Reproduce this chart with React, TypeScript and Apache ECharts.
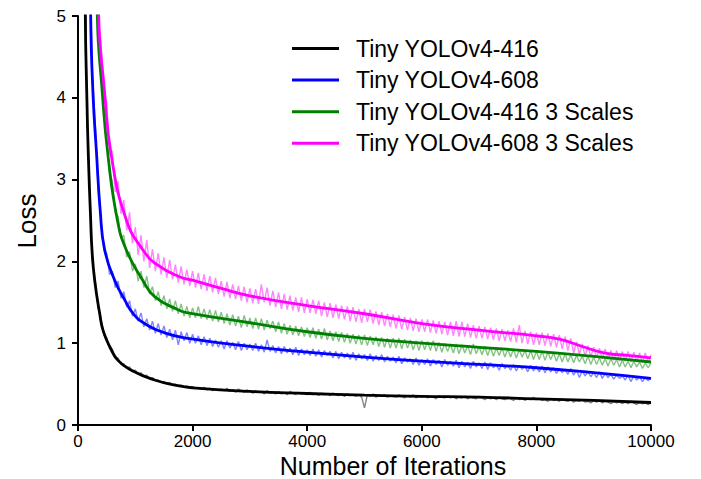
import React, { useEffect, useRef } from "react";
import * as echarts from "echarts";

const seriesNames = [
  "Tiny YOLOv4-416",
  "Tiny YOLOv4-608",
  "Tiny YOLOv4-416 3 Scales",
  "Tiny YOLOv4-608 3 Scales",
];

const xTicks = [0, 2000, 4000, 6000, 8000, 10000];
const yTicks = [0, 1, 2, 3, 4, 5];

// raw (unsmoothed) loss sampled every 50 iterations, 50..10000
const rawStep = 50;

const rawBlack = [
  20, 9.2, 4.0, 3.0, 2.0, 1.76, 1.44, 1.31, 1.1, 1.07,
  0.93, 0.93, 0.81, 0.82, 0.74, 0.75, 0.69, 0.71, 0.65, 0.67,
  0.62, 0.64, 0.6, 0.61, 0.56, 0.58, 0.54, 0.55, 0.52, 0.53,
  0.5, 0.52, 0.49, 0.5, 0.47, 0.49, 0.46, 0.48, 0.45, 0.47,
  0.45, 0.46, 0.44, 0.46, 0.43, 0.45, 0.42, 0.44, 0.43, 0.44,
  0.42, 0.45, 0.41, 0.43, 0.4, 0.44, 0.42, 0.4, 0.43, 0.41,
  0.39, 0.42, 0.4, 0.41, 0.38, 0.42, 0.39, 0.4, 0.38, 0.41,
  0.38, 0.4, 0.37, 0.41, 0.39, 0.37, 0.4, 0.38, 0.39, 0.37,
  0.4, 0.37, 0.39, 0.36, 0.39, 0.37, 0.38, 0.36, 0.39, 0.37,
  0.36, 0.38, 0.35, 0.38, 0.36, 0.37, 0.35, 0.37, 0.34, 0.21,
  0.37, 0.35, 0.38, 0.34, 0.36, 0.35, 0.37, 0.34, 0.36, 0.35,
  0.34, 0.37, 0.35, 0.33, 0.36, 0.34, 0.37, 0.33, 0.35, 0.34,
  0.36, 0.33, 0.35, 0.34, 0.32, 0.36, 0.34, 0.33, 0.35, 0.33,
  0.35, 0.32, 0.34, 0.33, 0.35, 0.32, 0.34, 0.33, 0.32, 0.35,
  0.33, 0.31, 0.34, 0.32, 0.33, 0.31, 0.34, 0.32, 0.31, 0.34,
  0.32, 0.3, 0.33, 0.31, 0.33, 0.3, 0.32, 0.31, 0.34, 0.31,
  0.32, 0.3, 0.31, 0.29, 0.32, 0.3, 0.31, 0.29, 0.32, 0.3,
  0.29, 0.31, 0.28, 0.3, 0.29, 0.31, 0.28, 0.29, 0.27, 0.3,
  0.28, 0.3, 0.27, 0.29, 0.28, 0.26, 0.29, 0.27, 0.28, 0.26,
  0.28, 0.26, 0.29, 0.27, 0.25, 0.28, 0.26, 0.27, 0.25, 0.27,
];

const rawBlue = [
  25, 16, 9, 6.1, 4.3, 3.7, 2.9, 2.5, 2.14, 2.1,
  1.84, 1.88, 1.68, 1.76, 1.55, 1.63, 1.44, 1.52, 1.33, 1.42,
  1.27, 1.37, 1.2, 1.3, 1.16, 1.27, 1.12, 1.24, 1.1, 1.21,
  1.07, 1.17, 1.04, 1.16, 0.98, 1.14, 1.03, 1.13, 1.0, 1.11,
  1.0, 1.09, 0.98, 1.08, 0.97, 1.06, 0.96, 1.04, 0.95, 1.03,
  0.93, 1.03, 0.94, 1.01, 0.92, 1.02, 0.91, 1.0, 0.92, 0.99,
  0.91, 1.0, 0.9, 0.98, 0.89, 1.04, 0.9, 0.97, 0.88, 0.96,
  0.87, 0.96, 0.88, 0.94, 0.86, 0.95, 0.85, 0.93, 0.86, 0.92,
  0.85, 0.93, 0.84, 0.92, 0.83, 0.91, 0.85, 0.9, 0.82, 0.9,
  0.81, 0.89, 0.82, 0.88, 0.8, 0.89, 0.79, 0.87, 0.81, 0.86,
  0.79, 0.87, 0.78, 0.85, 0.79, 0.86, 0.77, 0.84, 0.78, 0.83,
  0.76, 0.84, 0.75, 0.82, 0.77, 0.81, 0.74, 0.82, 0.73, 0.8,
  0.74, 0.81, 0.72, 0.8, 0.74, 0.79, 0.71, 0.8, 0.73, 0.78,
  0.72, 0.79, 0.7, 0.78, 0.71, 0.77, 0.69, 0.78, 0.71, 0.76,
  0.69, 0.77, 0.68, 0.76, 0.7, 0.74, 0.67, 0.75, 0.69, 0.73,
  0.67, 0.74, 0.66, 0.73, 0.68, 0.72, 0.65, 0.73, 0.66, 0.72,
  0.65, 0.72, 0.64, 0.71, 0.65, 0.7, 0.63, 0.69, 0.64, 0.68,
  0.62, 0.69, 0.61, 0.67, 0.58, 0.66, 0.6, 0.65, 0.59, 0.64,
  0.58, 0.65, 0.57, 0.63, 0.58, 0.62, 0.56, 0.61, 0.57, 0.6,
  0.55, 0.61, 0.53, 0.6, 0.55, 0.59, 0.53, 0.58, 0.54, 0.58,
];

const rawGreen = [
  40, 25, 17, 11, 7.5, 5.9, 4.8, 4.35, 3.8, 3.5,
  3.08, 2.98, 2.6, 2.55, 2.28, 2.32, 2.05, 2.12, 1.88, 1.97,
  1.76, 1.88, 1.68, 1.82, 1.6, 1.69, 1.52, 1.63, 1.46, 1.58,
  1.42, 1.54, 1.39, 1.52, 1.36, 1.48, 1.33, 1.45, 1.31, 1.43,
  1.31, 1.45, 1.3, 1.42, 1.29, 1.41, 1.27, 1.4, 1.26, 1.38,
  1.24, 1.36, 1.22, 1.35, 1.21, 1.33, 1.19, 1.34, 1.2, 1.31,
  1.18, 1.31, 1.17, 1.3, 1.16, 1.28, 1.18, 1.27, 1.14, 1.26,
  1.12, 1.24, 1.11, 1.22, 1.1, 1.21, 1.09, 1.2, 1.08, 1.19,
  1.07, 1.19, 1.06, 1.17, 1.05, 1.18, 1.04, 1.15, 1.03, 1.14,
  1.02, 1.13, 1.01, 1.12, 1.0, 1.11, 0.99, 1.1, 0.98, 1.1,
  0.97, 1.09, 0.98, 1.08, 0.96, 1.07, 0.95, 1.06, 0.94, 1.06,
  0.94, 1.06, 0.93, 1.05, 0.94, 1.04, 0.92, 1.03, 0.91, 1.03,
  0.92, 1.02, 0.91, 1.03, 0.9, 1.01, 0.89, 1.0, 0.9, 0.99,
  0.88, 0.99, 0.87, 0.98, 0.88, 0.97, 0.86, 0.99, 0.87, 0.96,
  0.86, 0.96, 0.85, 0.95, 0.84, 0.94, 0.85, 0.94, 0.83, 0.93,
  0.83, 0.93, 0.82, 0.92, 0.83, 0.91, 0.81, 0.91, 0.8, 0.9,
  0.8, 0.9, 0.79, 0.89, 0.8, 0.88, 0.78, 0.87, 0.77, 0.87,
  0.77, 0.86, 0.76, 0.85, 0.77, 0.84, 0.75, 0.84, 0.74, 0.83,
  0.74, 0.82, 0.73, 0.81, 0.72, 0.81, 0.73, 0.8, 0.71, 0.79,
  0.71, 0.78, 0.7, 0.78, 0.71, 0.77, 0.69, 0.76, 0.7, 0.76,
];

const rawMagenta = [
  50, 30, 20, 13, 9, 6.6, 5.0, 4.7, 4.1, 3.95,
  3.3, 3.35, 2.85, 2.98, 2.58, 2.75, 2.38, 2.6, 2.22, 2.42,
  2.08, 2.32, 2.0, 2.26, 1.92, 2.15, 1.88, 2.1, 1.84, 2.05,
  1.8, 2.02, 1.78, 1.96, 1.74, 1.94, 1.72, 1.9, 1.7, 1.88,
  1.68, 1.86, 1.66, 1.84, 1.64, 1.82, 1.62, 1.8, 1.6, 1.76,
  1.57, 1.75, 1.55, 1.72, 1.54, 1.7, 1.52, 1.69, 1.5, 1.67,
  1.49, 1.66, 1.48, 1.72, 1.5, 1.68, 1.46, 1.64, 1.44, 1.62,
  1.42, 1.6, 1.41, 1.58, 1.4, 1.56, 1.38, 1.56, 1.37, 1.54,
  1.37, 1.53, 1.36, 1.52, 1.33, 1.5, 1.32, 1.49, 1.31, 1.47,
  1.3, 1.46, 1.29, 1.45, 1.27, 1.44, 1.26, 1.42, 1.25, 1.42,
  1.26, 1.41, 1.24, 1.39, 1.22, 1.38, 1.21, 1.36, 1.2, 1.35,
  1.18, 1.34, 1.17, 1.32, 1.16, 1.31, 1.15, 1.3, 1.14, 1.29,
  1.14, 1.29, 1.13, 1.28, 1.12, 1.27, 1.11, 1.26, 1.1, 1.26,
  1.09, 1.27, 1.08, 1.26, 1.08, 1.24, 1.07, 1.22, 1.06, 1.21,
  1.06, 1.2, 1.05, 1.19, 1.04, 1.18, 1.03, 1.17, 1.03, 1.16,
  1.02, 1.18, 1.01, 1.22, 1.0, 1.15, 0.99, 1.14, 0.98, 1.13,
  0.98, 1.13, 0.97, 1.12, 0.96, 1.11, 0.95, 1.1, 0.93, 1.08,
  0.91, 1.06, 0.88, 1.02, 0.86, 0.99, 0.84, 0.97, 0.83, 0.95,
  0.82, 0.94, 0.81, 0.93, 0.8, 0.91, 0.79, 0.91, 0.78, 0.9,
  0.78, 0.9, 0.77, 0.89, 0.77, 0.88, 0.76, 0.88, 0.76, 0.86,
];

// fitted (smoothed) curves: [iteration, loss]
const fitBlack = [
  [100, 9], [128, 5], [155, 4], [180, 3.3], [221, 2.51], [244, 2.14],
  [291, 1.77], [378, 1.365], [436, 1.16], [553, 0.96], [698, 0.79],
  [931, 0.67], [1338, 0.55], [1745, 0.48], [2000, 0.455], [3000, 0.41],
  [4000, 0.385], [5000, 0.365], [6000, 0.35], [7000, 0.34], [8000, 0.32],
  [9000, 0.3], [10000, 0.275],
];
const fitBlue = [
  [170, 9], [221, 5], [265, 4], [320, 3.36], [390, 2.6], [466, 2.14],
  [640, 1.77], [815, 1.53], [960, 1.365], [1163, 1.24], [1541, 1.12],
  [1920, 1.06], [3000, 0.96], [4000, 0.89], [5000, 0.83], [6000, 0.78],
  [7000, 0.74], [8000, 0.7], [9000, 0.64], [10000, 0.57],
];
const fitGreen = [
  [270, 9], [337, 5], [420, 4.1], [524, 3.29], [686, 2.51], [843, 2.14],
  [1130, 1.77], [1338, 1.57], [1745, 1.41], [1920, 1.37], [3000, 1.25],
  [4000, 1.14], [5000, 1.06], [6000, 1.0], [7000, 0.95], [8000, 0.9],
  [9000, 0.84], [10000, 0.77],
];
const fitMagenta = [
  [290, 9], [361, 5], [460, 4.1], [582, 3.29], [843, 2.51], [1134, 2.14],
  [1400, 1.95], [1780, 1.81], [2000, 1.77], [2500, 1.67], [3000, 1.58],
  [4000, 1.46], [5000, 1.36], [6000, 1.24], [7000, 1.16], [8000, 1.09],
  [8400, 1.05], [8800, 0.96], [9200, 0.88], [9600, 0.85], [10000, 0.82],
];

const lineColors = ["#000000", "#0000ff", "#008000", "#ff00ff"];
const rawColors = ["#858585", "#8484ff", "#85c285", "#ff85ff"];
const FONT = "'Liberation Sans', Arial, Helvetica, sans-serif";

export default function App() {
  const ref = useRef<HTMLDivElement>(null);

  useEffect(() => {
    if (!ref.current) return;
    const chart = echarts.init(ref.current, undefined, { renderer: "svg" });
    const raws = [rawBlack, rawBlue, rawGreen, rawMagenta];
    const fits = [fitBlack, fitBlue, fitGreen, fitMagenta];

    const rawSeries = raws.map((arr, k) => ({
      type: "line",
      name: "raw" + k,
      data: arr.map((v, i) => [(i + 1) * rawStep, v]),
      showSymbol: false,
      symbol: "none",
      lineStyle: { color: rawColors[k], width: 1.4 },
      itemStyle: { color: rawColors[k] },
      clip: true,
      silent: true,
      z: 1,
    }));
    const fitSeries = fits.map((arr, k) => ({
      type: "line",
      name: seriesNames[k],
      data: arr,
      smooth: 0.5,
      showSymbol: false,
      symbol: "none",
      lineStyle: { color: lineColors[k], width: 2.8 },
      itemStyle: { color: lineColors[k] },
      clip: true,
      z: 3,
    }));

    chart.setOption({
      animation: false,
      backgroundColor: "#ffffff",
      textStyle: { fontFamily: FONT },
      grid: { left: 78, right: 50, top: 16, bottom: 54, containLabel: false },
      xAxis: {
        type: "value",
        min: xTicks[0],
        max: xTicks[xTicks.length - 1],
        interval: 2000,
        axisLine: { lineStyle: { color: "#000", width: 2 } },
        axisTick: { show: true, length: 6, lineStyle: { color: "#000", width: 2 } },
        axisLabel: {
          color: "#000",
          fontSize: 17,
          margin: 8,
          fontFamily: FONT,
          formatter: (v: number) => String(v),
        },
        splitLine: { show: false },
      },
      yAxis: {
        type: "value",
        min: yTicks[0],
        max: yTicks[yTicks.length - 1],
        interval: 1,
        axisLine: { show: true, lineStyle: { color: "#000", width: 2 } },
        axisTick: { show: true, length: 6, lineStyle: { color: "#000", width: 2 } },
        axisLabel: { color: "#000", fontSize: 17, margin: 12, fontFamily: FONT },
        splitLine: { show: false },
      },
      legend: {
        data: seriesNames,
        orient: "vertical",
        left: 292,
        top: 37,
        padding: 0,
        icon: "rect",
        itemWidth: 47,
        itemHeight: 3,
        itemGap: 8.6,
        textStyle: {
          fontSize: 23,
          lineHeight: 23,
          color: "#000",
          fontFamily: FONT,
          padding: [0, 0, 0, 12],
        },
        selectedMode: false,
      },
      graphic: [
        {
          type: "text",
          x: 27,
          y: 221,
          rotation: Math.PI / 2,
          style: {
            text: "Loss",
            fontSize: 26,
            fontFamily: FONT,
            fill: "#000",
            textAlign: "center",
            textVerticalAlign: "middle",
          },
        },
        {
          type: "text",
          x: 393,
          y: 466,
          style: {
            text: "Number of Iterations",
            fontSize: 25,
            fontFamily: FONT,
            fill: "#000",
            textAlign: "center",
            textVerticalAlign: "middle",
          },
        },
      ],
      series: [...rawSeries, ...fitSeries],
    });

    return () => chart.dispose();
  }, []);

  return (
    <div
      ref={ref}
      style={{ position: "fixed", left: 0, top: 0, width: 701, height: 479 }}
    />
  );
}
